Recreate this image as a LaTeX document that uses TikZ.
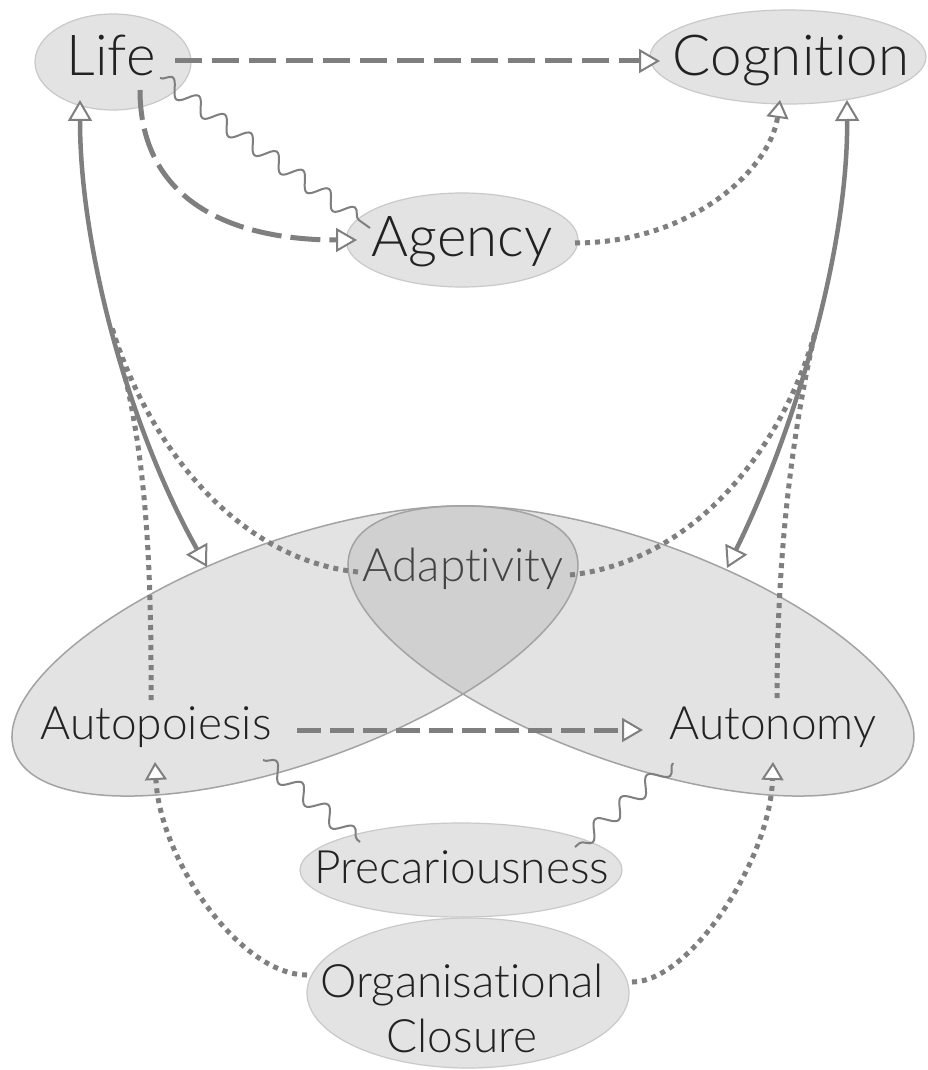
\documentclass[tikz,border=0pt]{standalone}
\usepackage{fontspec}
\IfFontExistsTF{Lato Light}
  {\setmainfont{Lato Light}[Ligatures=NoCommon]}
  {\setmainfont{Lato}[Ligatures=NoCommon]}
\usetikzlibrary{shapes.geometric, arrows.meta, decorations.pathmorphing, calc}

\definecolor{bubblefill}{HTML}{E3E3E3}
\definecolor{bubbleedge}{HTML}{C9C9C9}
\definecolor{zoneedge}{HTML}{A3A3A3}
\definecolor{overlapfill}{HTML}{D0D0D0}
\definecolor{linkgray}{HTML}{7F7F7F}
\definecolor{ink}{HTML}{222222}
\definecolor{softink}{HTML}{444444}

\begin{document}
\begin{tikzpicture}[x=1pt, y=-1pt,
  bubble/.style={ellipse, draw=bubbleedge, fill=bubblefill, line width=1.2pt, inner sep=0pt},
  bigword/.style={font=\fontsize{56.5}{60}\selectfont, text=ink, inner sep=0pt, anchor=base},
  midword/.style={font=\fontsize{46}{55}\selectfont, text=ink, inner sep=0pt, anchor=base},
  link/.style={draw=linkgray, line width=5pt},
  dashlink/.style={link, dash pattern=on 27pt off 10pt},
  dotlink/.style={link, line width=5pt, dash pattern=on 5pt off 5pt},
  solidlink/.style={link, line width=4.5pt},
  wavy/.style={draw=linkgray, line width=2pt, decorate,
    decoration={snake, amplitude=8pt, segment length=32pt}},
  zone/.style={x radius=298, y radius=111},
  opentip/.tip={Triangle[length=21pt, width=24pt, line width=2pt, fill=white]},
  smalltip/.tip={Triangle[length=18pt, width=22pt, line width=2pt, fill=white]}
]
\fill[white] (0,0) rectangle (927,1070);
\useasboundingbox (0,0) rectangle (927,1070);

% the two overlapping zones and their common part
\coordinate (zoneL) at (295,651);
\coordinate (zoneR) at (631,651);
\fill[bubblefill, rotate around={19.75:(zoneL)}] (zoneL) ellipse [zone];
\fill[bubblefill, rotate around={-19.75:(zoneR)}] (zoneR) ellipse [zone];
\begin{scope}
  \clip[rotate around={19.75:(zoneL)}] (zoneL) ellipse [zone];
  \fill[overlapfill, rotate around={-19.75:(zoneR)}] (zoneR) ellipse [zone];
\end{scope}
\draw[zoneedge, line width=1.5pt, rotate around={19.75:(zoneL)}] (zoneL) ellipse [zone];
\draw[zoneedge, line width=1.5pt, rotate around={-19.75:(zoneR)}] (zoneR) ellipse [zone];

% concept bubbles
\node[bubble, minimum width=156pt, minimum height=96pt] (life) at (113,62) {};
\node[bubble, minimum width=276pt, minimum height=94pt] (cognition) at (788,57) {};
\node[bubble, minimum width=232pt, minimum height=94pt] (agency) at (462,240) {};
\node[bubble, minimum width=322pt, minimum height=94pt] (precariousness) at (461,870) {};
\node[bubble, minimum width=322pt, minimum height=150pt] (closure) at (468,993) {};

% labels
\node[bigword] (lifeText) at (111,76) {Life};
\node[bigword] (cognitionText) at (791,76) {Cognition};
\node[bigword] (agencyText) at (462,256) {Agency};
\node[midword] (autopoiesis) at (156,739) {Autopoiesis};
\node[midword] (autonomy) at (773,739) {Autonomy};
\node[midword, text=softink] (adaptivity) at (463,581) {Adaptivity};
\node[midword] (precText) at (462,883) {Precariousness};
\node[midword, anchor=center, align=center] (closureText) at (462,1008) {Organisational\\Closure};

% junctions where the dotted links meet the solid ones
\coordinate (jl) at (112,328);
\coordinate (jr) at (815,333);

% connectors
\draw[dashlink, -opentip] ($(life.center)+(62,-1)$) -- ($(cognition.center)+(-128,4)$);
\draw[dashlink, dash pattern=on 30pt off 9pt, -opentip]
  ($(life.center)+(27,28)$) .. controls +(0,110) and +(-127,0) .. ($(agency.center)+(-105,0)$);
\draw[wavy] ($(life.center)+(47,16)$) -- ($(agency.center)+(-92,-12)$);
\draw[dotlink, -smalltip]
  ($(agency.center)+(113,3)$) .. controls +(115,0) and +(-10,70) .. ($(cognition.center)+(-8,43)$);

\draw[solidlink, opentip-opentip]
  ($(life.center)+(-33,38)$) .. controls +(0,150) and +(-77,-137) .. ($(zoneL)+(-88,-84)$);
\draw[solidlink, opentip-opentip]
  ($(cognition.center)+(59,43)$) .. controls +(1,150) and +(68,-138) .. ($(zoneR)+(96,-83)$);

\draw[dotlink] ($(autopoiesis.base)+(-5,-39)$) .. controls +(1,-180) and +(28,92) .. (jl);
\draw[dotlink] ($(adaptivity.base)+(-105,-9)$) .. controls +(-118,-12) and +(38,122) .. (jl);
\draw[dotlink] ($(adaptivity.base)+(107,-6)$) .. controls +(120,-13) and +(-35,122) .. (jr);
\draw[dotlink] ($(autonomy.base)+(4,-41)$) .. controls +(0,-158) and +(-20,87) .. (jr);

\draw[dashlink, dash pattern=on 24pt off 9pt, -opentip]
  ($(autopoiesis.base)+(141,-9)$) -- ($(autonomy.base)+(-130,-9)$);

\draw[wavy, decoration={segment length=34pt}]
  ($(autopoiesis.base)+(107,21)$) -- ($(precariousness.center)+(-101,-28)$);
\draw[wavy, decoration={segment length=34pt}]
  ($(autonomy.base)+(-100,24)$) -- ($(precariousness.center)+(114,-23)$);

\draw[dotlink, -smalltip]
  ($(closure.center)+(-161,-18)$) .. controls +(-67,0) and +(5,98) .. ($(autopoiesis.base)+(-1,23)$);
\draw[dotlink, -smalltip]
  ($(closure.center)+(164,-11)$) .. controls +(58,0) and +(-3,98) .. ($(autonomy.base)+(0,23)$);
\end{tikzpicture}
\end{document}
